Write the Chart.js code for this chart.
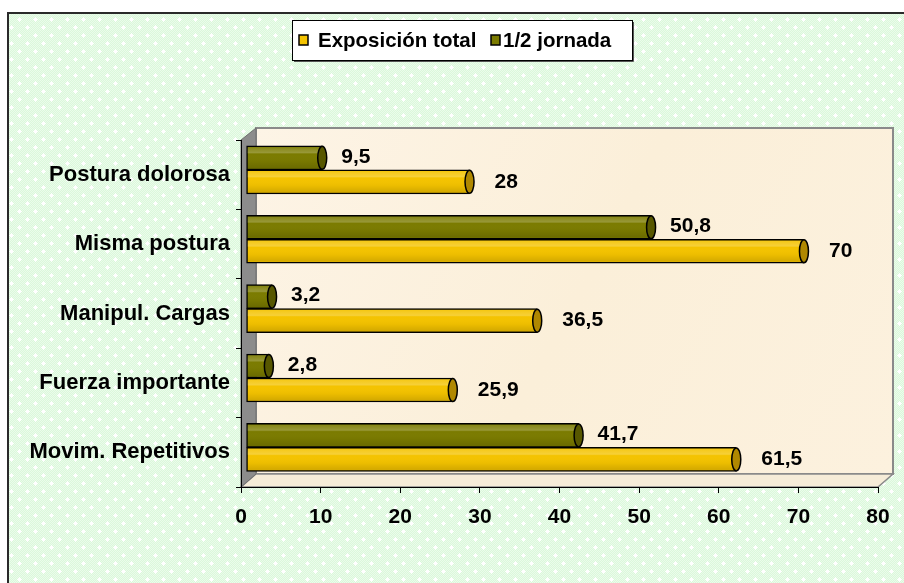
<!DOCTYPE html>
<html><head><meta charset="utf-8">
<script src="https://cdn.jsdelivr.net/npm/chart.js@4.4.1/dist/chart.umd.min.js"></script>
<style>html,body{margin:0;padding:0;background:#fff;overflow:hidden}#wrap{width:904px;height:583px;position:relative}</style>
</head><body><div id="wrap"><canvas id="c" width="904" height="583"></canvas></div>
<script>
const categories = ['Postura dolorosa', 'Misma postura', 'Manipul. Cargas', 'Fuerza importante', 'Movim. Repetitivos'];
const exposicionTotal = [28, 70, 36.5, 25.9, 61.5];
const mediaJornada = [9.5, 50.8, 3.2, 2.8, 41.7];
const seriesNames = ['Exposición total', '1/2 jornada'];
const xTicks = [0, 10, 20, 30, 40, 50, 60, 70, 80];

const FONT = '"Liberation Sans", Arial, Helvetica, sans-serif';
const YELLOW = '#f4c300', YELLOW_CAP = '#b08800';
const GREEN = '#7b7b00', GREEN_CAP = '#575700';

function makePattern(ctx) {
  const t = document.createElement('canvas');
  t.width = 16; t.height = 16;
  const g = t.getContext('2d');
  g.fillStyle = '#dbf8db'; g.fillRect(0, 0, 16, 16);
  g.fillStyle = '#ebfceb';
  for (let yy = 0; yy < 16; yy++) for (let xx = 0; xx < 16; xx++) if ((xx + yy) % 2 === 0) g.fillRect(xx, yy, 1, 1);
  g.fillStyle = '#ffffff';
  [[3, 3], [11, 11]].forEach(([cx, cy]) => { g.fillRect(cx - 2, cy, 5, 1); g.fillRect(cx, cy - 2, 1, 5); g.fillRect(cx - 1, cy - 1, 3, 3); });
  return ctx.createPattern(t, 'repeat');
}

const backgroundPlugin = {
  id: 'bg3d',
  beforeDraw(chart) {
    const ctx = chart.ctx, a = chart.chartArea;
    ctx.save();
    ctx.fillStyle = '#ffffff'; ctx.fillRect(0, 0, chart.width, chart.height);
    ctx.fillStyle = makePattern(ctx);
    ctx.fillRect(7, 12, chart.width, chart.height);
    ctx.strokeStyle = '#2a2a2a'; ctx.lineWidth = 2;
    ctx.beginPath(); ctx.moveTo(8, chart.height); ctx.lineTo(8, 13); ctx.lineTo(chart.width, 13); ctx.stroke();
    const dx = 15, dy = 13;
    const wx = a.left + dx, wy = a.top - 12, wr = a.right + dx, wb = a.bottom - dy;
    const wg = ctx.createLinearGradient(wx, wy, wr, wb);
    wg.addColorStop(0, '#fdf4e6'); wg.addColorStop(0.5, '#fbefd9'); wg.addColorStop(1, '#fcf1de');
    ctx.fillStyle = wg; ctx.fillRect(wx, wy, wr - wx, wb - wy);
    ctx.strokeStyle = '#8a8a8a'; ctx.lineWidth = 2; ctx.strokeRect(wx, wy, wr - wx, wb - wy);
    ctx.beginPath(); ctx.moveTo(a.left, a.bottom); ctx.lineTo(wx, wb); ctx.lineTo(wr, wb); ctx.lineTo(a.right, a.bottom); ctx.closePath();
    ctx.fillStyle = '#f6ecd8'; ctx.fill(); ctx.strokeStyle = '#8a8a8a'; ctx.lineWidth = 1.5; ctx.stroke();
    ctx.beginPath(); ctx.moveTo(a.left, a.top); ctx.lineTo(wx, wy); ctx.lineTo(wx, wb); ctx.lineTo(a.left, a.bottom); ctx.closePath();
    ctx.fillStyle = '#8c8c8c'; ctx.fill(); ctx.strokeStyle = '#6e6e6e'; ctx.lineWidth = 1; ctx.stroke();
    ctx.restore();
  }
};

const barDecorPlugin = {
  id: 'barDecor',
  afterDatasetsDraw(chart) {
    const ctx = chart.ctx;
    ctx.save();
    chart.data.datasets.forEach((ds, di) => {
      const meta = chart.getDatasetMeta(di);
      const capCol = di === 0 ? GREEN_CAP : YELLOW_CAP;
      meta.data.forEach((el, i) => {
        const p = el.getProps(['x', 'y', 'base', 'height'], true);
        const top = p.y - p.height / 2;
        const g = ctx.createLinearGradient(0, top, 0, top + p.height);
        g.addColorStop(0, 'rgba(255,255,255,0.05)');
        g.addColorStop(0.28, 'rgba(255,255,255,0.22)');
        g.addColorStop(0.34, 'rgba(255,255,255,0.0)');
        g.addColorStop(0.65, 'rgba(0,0,0,0.03)');
        g.addColorStop(1, 'rgba(0,0,0,0.16)');
        ctx.fillStyle = g;
        ctx.fillRect(p.base + 1, top + 1.5, p.x - p.base - 2, p.height - 3);
        ctx.beginPath();
        ctx.ellipse(p.x, p.y, 4.5, p.height / 2 - 0.5, 0, 0, Math.PI * 2);
        ctx.fillStyle = capCol; ctx.fill();
        ctx.strokeStyle = '#000'; ctx.lineWidth = 1.5; ctx.stroke();
        const v = ds.data[i].x;
        ctx.fillStyle = '#000';
        ctx.font = 'bold 21px ' + FONT;
        ctx.textAlign = 'left'; ctx.textBaseline = 'middle';
        const gap = di === 0 ? 15 : 21;
        ctx.fillText(String(v).replace('.', ','), p.x + 4 + gap, p.y + (di === 0 ? -1 : 0));
      });
    });
    ctx.restore();
  }
};

const legendPlugin = {
  id: 'boxLegend',
  afterDraw(chart) {
    const ctx = chart.ctx;
    ctx.save();
    const bx = 292, by = 20, bw = 340, bh = 40;
    ctx.fillStyle = '#fff'; ctx.fillRect(bx, by, bw, bh);
    ctx.strokeStyle = '#000'; ctx.lineWidth = 1; ctx.strokeRect(bx + 0.5, by + 0.5, bw, bh);
    ctx.strokeStyle = '#555'; ctx.beginPath(); ctx.moveTo(bx + bw + 1.5, by + 2); ctx.lineTo(bx + bw + 1.5, by + bh + 1.5); ctx.lineTo(bx + 2, by + bh + 1.5); ctx.stroke();
    const items = [[seriesNames[0], YELLOW, 299, 318], [seriesNames[1], GREEN, 491, 503]];
    ctx.font = 'bold 20.5px ' + FONT; ctx.textBaseline = 'middle'; ctx.textAlign = 'left';
    items.forEach(([txt, col, sx, tx]) => {
      ctx.fillStyle = col; ctx.fillRect(sx, 35, 9, 10);
      ctx.strokeStyle = '#000'; ctx.lineWidth = 1.5; ctx.strokeRect(sx, 35, 9, 10);
      ctx.fillStyle = '#000'; ctx.fillText(txt, tx, 41);
    });
    ctx.restore();
  }
};

const chart = new Chart(document.getElementById('c'), {
  type: 'bar',
  data: {
    labels: categories,
    datasets: [
      { label: seriesNames[1], data: categories.map((c, i) => ({ x: mediaJornada[i], y: i })), xAxisID: 'xb', yAxisID: 'yb',
        backgroundColor: GREEN, borderColor: '#000', borderWidth: 1.5, borderSkipped: false, barThickness: 24 },
      { label: seriesNames[0], data: categories.map((c, i) => ({ x: exposicionTotal[i], y: i })), xAxisID: 'xb', yAxisID: 'yb',
        backgroundColor: YELLOW, borderColor: '#000', borderWidth: 1.5, borderSkipped: false, barThickness: 24 }
    ]
  },
  options: {
    indexAxis: 'y',
    responsive: false,
    animation: false,
    devicePixelRatio: 1,
    layout: { padding: { top: 140, right: 26, left: 0, bottom: 0 } },
    plugins: { legend: { display: false }, tooltip: { enabled: false } },
    scales: {
      y: {
        type: 'category', position: 'left', offset: true,
        grid: { display: true, drawOnChartArea: false, drawTicks: true, tickLength: 5, color: '#000', offset: true },
        border: { display: true, color: '#000', width: 1 },
        ticks: { color: '#000', font: { family: FONT, size: 22, weight: 'bold' }, padding: 6 },
        afterFit(s) { s.width = 241; }
      },
      x: {
        type: 'linear', position: 'bottom', min: 0, max: 80,
        afterBuildTicks(s) { s.ticks = xTicks.map(v => ({ value: v })); },
        grid: { display: true, drawOnChartArea: false, drawTicks: true, tickLength: 6, color: '#000' },
        border: { display: true, color: '#000', width: 1 },
        ticks: { color: '#000', font: { family: FONT, size: 21, weight: 'bold' }, padding: 12 },
        afterFit(s) { s.height = 96; }
      },
      xb: { type: 'linear', display: false, offset: false, bounds: 'data', min: -0.7, max: 79.3 },
      yb: { type: 'linear', display: false, offset: false, grid: { offset: false }, bounds: 'data', reverse: true, min: -0.43, max: 4.57 }
    }
  },
  plugins: [backgroundPlugin, barDecorPlugin, legendPlugin]
});
</script></body></html>
